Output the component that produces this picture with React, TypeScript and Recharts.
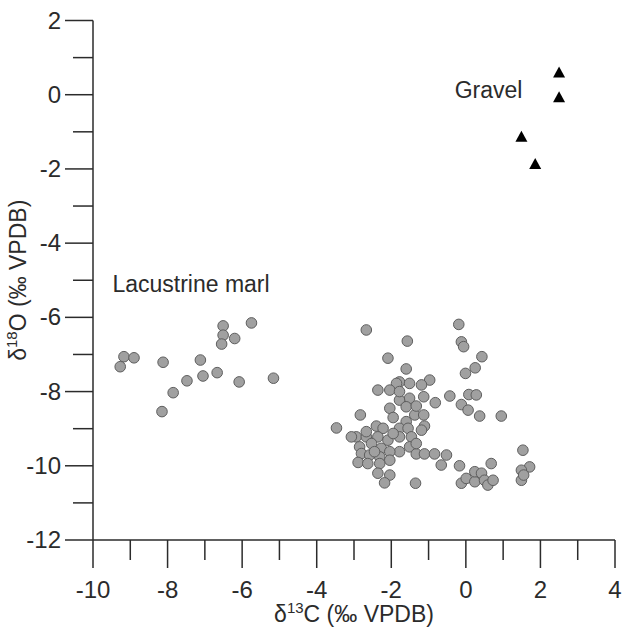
import React from "react";
import { ScatterChart, Scatter, XAxis, YAxis, ReferenceDot } from "recharts";

// δ13C / δ18O values
const marlX = [
  -9.17, -8.9, -9.27, -8.12, -6.51, -6.51, -6.55, -6.2, -5.75, -7.12, -6.67, -7.05, -7.48, -7.85, -8.15, -6.08, -5.16,
  -2.67, -1.57, -2.09, -1.6, -0.19, -0.12, -0.06, 0.43, 0.25, -0.01, -1.78, -1.51, -1.86, -2.36, -2.04, -0.97, -1.19,
  -0.43, 0.08, 0.28, -0.12, 0.06, 0.37, 0.95, -0.82, -1.13, -1.51, -1.78, -2.04, -1.6, -1.95, -2.83, -3.47, -1.37,
  -1.13, -1.6, -1.11, -2.4, -2.22, -1.78, -1.55, -1.19, -2.94, -2.67, -2.36, -1.78, -1.46, -2.09, -2.53, -2.85, -2.27,
  -1.51, -1.78, -2.04, -1.33, -1.11, -0.84, -0.52, -2.8, -2.58, -2.31, -2.04, -2.89, -2.63, -2.31, -0.66, -0.17, 0.68,
  1.53, 1.71, 1.49, 1.49, 1.55, -2.36, -2.04, -2.18, -1.35, -0.12, 0.01, 0.24, 0.24, 0.42, 0.5, 0.59, 0.73,
  -1.33, -1.78, -2.67, -1.95, -1.33, -2.45, -3.07,
];
const marlY = [
  -7.06, -7.09, -7.33, -7.21, -6.23, -6.48, -6.72, -6.57, -6.15, -7.15, -7.49, -7.58, -7.71, -8.03, -8.54, -7.74, -7.64,
  -6.34, -6.64, -7.1, -7.39, -6.19, -6.66, -6.79, -7.06, -7.36, -7.51, -7.74, -7.78, -7.78, -7.96, -7.96, -7.69, -7.82,
  -8.12, -8.08, -8.09, -8.35, -8.5, -8.66, -8.66, -8.3, -8.14, -8.18, -8.23, -8.45, -8.41, -8.7, -8.63, -8.98, -8.63,
  -8.63, -8.81, -8.93, -8.93, -8.99, -8.99, -8.99, -9.04, -9.22, -9.22, -9.22, -9.22, -9.22, -9.31, -9.4, -9.49, -9.53,
  -9.49, -9.62, -9.62, -9.68, -9.68, -9.68, -9.71, -9.67, -9.71, -9.76, -9.85, -9.91, -9.94, -9.94, -9.98, -10.0, -9.94,
  -9.58, -10.03, -10.12, -10.39, -10.25, -10.2, -10.25, -10.46, -10.47, -10.47, -10.34, -10.43, -10.16, -10.2, -10.39, -10.52, -10.39,
  -8.39, -8.0, -9.08, -9.13, -9.4, -9.62, -9.22,
];
const gravelX = [2.5, 2.5, 1.49, 1.86];
const gravelY = [0.6, -0.07, -1.13, -1.87];

const xTicks = [-10, -9, -8, -7, -6, -5, -4, -3, -2, -1, 0, 1, 2, 3, 4];
const yTicks = [-12, -11, -10, -9, -8, -7, -6, -5, -4, -3, -2, -1, 0, 1, 2];

const marlData = marlX.map((x, i) => ({ x, y: marlY[i] }));
const gravelData = gravelX.map((x, i) => ({ x, y: gravelY[i] }));

const FONT = "'Liberation Sans', Arial, sans-serif";
const INK = "#2b2b2b";

const XTick = (props: any) => {
  const { x, y, payload } = props;
  const major = payload.value % 2 === 0;
  return (
    <g>
      <line x1={x} x2={x} y1={y} y2={y + (major ? 28 : 20)} stroke={INK} strokeWidth={1.5} />
      {major && (
        <text x={x} y={y + 58} textAnchor="middle" fontSize={24} fill={INK} fontFamily={FONT}>
          {payload.value}
        </text>
      )}
    </g>
  );
};

const YTick = (props: any) => {
  const { x, y, payload } = props;
  const major = payload.value % 2 === 0;
  return (
    <g>
      <line x1={x - (major ? 28 : 20)} x2={x} y1={y} y2={y} stroke={INK} strokeWidth={1.5} />
      {major && (
        <text x={x - 32} y={y + 8} textAnchor="end" fontSize={24} fill={INK} fontFamily={FONT}>
          {payload.value}
        </text>
      )}
    </g>
  );
};

const Dot = (p: any) => (
  <circle cx={p.cx} cy={p.cy} r={5.3} fill="#a0a0a0" stroke="#5e5e5e" strokeWidth={1} />
);

const Tri = (p: any) => (
  <polygon
    points={`${p.cx},${p.cy - 6} ${p.cx - 6},${p.cy + 5} ${p.cx + 6},${p.cy + 5}`}
    fill="#000"
  />
);

const Note = (text: string) => (p: any) => (
  <text x={p.cx} y={p.cy} fontSize={23} fill={INK} fontFamily={FONT}>
    {text}
  </text>
);

export default function App() {
  return (
    <div style={{ width: 623, height: 637 }}>
      <style>{"body{margin:0;overflow:hidden}"}</style>
      <ScatterChart width={623} height={637} margin={{ top: 20.5, right: 8, left: 0, bottom: 0 }}>
        <XAxis
          type="number"
          dataKey="x"
          domain={[-10, 4]}
          ticks={xTicks}
          interval={0}
          height={97}
          tickSize={0}
          tickMargin={0}
          tickLine={false}
          axisLine={{ stroke: INK, strokeWidth: 1.5 }}
          tick={<XTick />}
          allowDataOverflow
          label={(lp: any) => {
            const vb = lp.viewBox;
            return (
              <text x={vb.x + vb.width / 2} y={vb.y + 82} textAnchor="middle" fontSize={23} fill={INK} fontFamily={FONT}>
                δ<tspan dy={-9} fontSize={15}>13</tspan>
                <tspan dy={9}>C (‰ VPDB)</tspan>
              </text>
            );
          }}
        />
        <YAxis
          type="number"
          dataKey="y"
          domain={[-12, 2]}
          ticks={yTicks}
          interval={0}
          width={93}
          tickSize={0}
          tickMargin={0}
          tickLine={false}
          axisLine={{ stroke: INK, strokeWidth: 1.5 }}
          tick={<YTick />}
          allowDataOverflow
          label={(lp: any) => {
            const vb = lp.viewBox;
            const cy = vb.y + vb.height / 2;
            return (
              <text transform={`translate(26, ${cy}) rotate(-90)`} textAnchor="middle" fontSize={23} fill={INK} fontFamily={FONT}>
                δ<tspan dy={-9} fontSize={15}>18</tspan>
                <tspan dy={9}>O (‰ VPDB)</tspan>
              </text>
            );
          }}
        />
        <Scatter name="Lacustrine marl" data={marlData} shape={Dot} isAnimationActive={false} />
        <Scatter name="Gravel" data={gravelData} shape={Tri} isAnimationActive={false} />
        <ReferenceDot x={-9.48} y={-5.31} r={0} shape={Note("Lacustrine marl")} />
        <ReferenceDot x={-0.3} y={-0.1} r={0} shape={Note("Gravel")} />
      </ScatterChart>
    </div>
  );
}
